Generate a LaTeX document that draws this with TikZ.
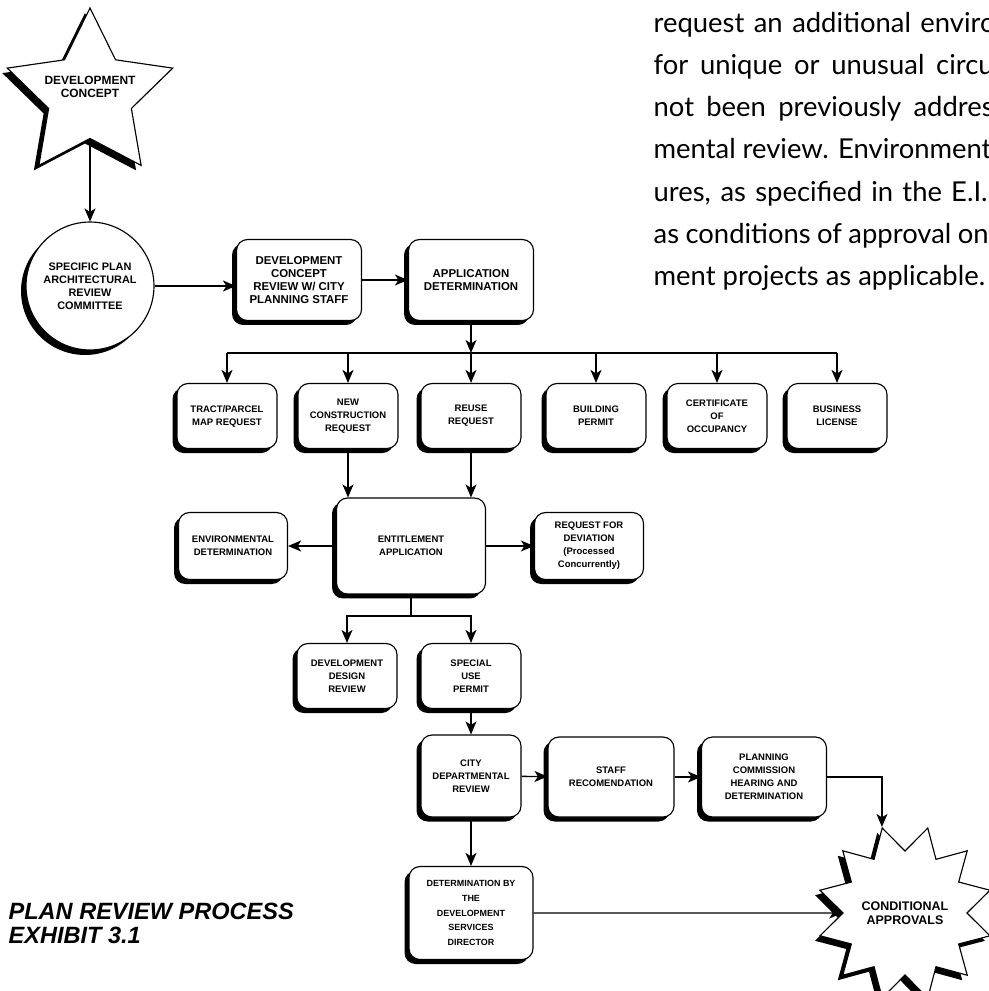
\documentclass[tikz,border=0pt]{standalone}
\usepackage{fontspec}
\setsansfont{Liberation Sans}
\newfontfamily\bodyfont{Lato}
\usetikzlibrary{shapes.geometric,shadows,arrows.meta}

\begin{document}
\begin{tikzpicture}
  [x=0.02cm, y=-0.02cm, line width=0.75pt,
   box/.style={draw, fill=white, line width=0.65pt, rounded corners=0.22cm,
     general shadow={fill=black, shadow xshift=-0.09cm, shadow yshift=-0.09cm},
     align=center, inner sep=1pt, minimum width=2cm, minimum height=1.3cm,
     font=\sffamily\bfseries\fontsize{5.4}{7.4}\selectfont},
   bigbox/.style={box, minimum width=2.5cm, minimum height=1.62cm,
     font=\sffamily\bfseries\fontsize{6.5}{7.4}\selectfont},
   blob/.style={draw, fill=white, line width=0.65pt, align=center, inner sep=0pt,
     general shadow={fill=black, shadow xshift=-0.1cm, shadow yshift=-0.1cm}},
   arr/.style={-{Stealth[length=0.26cm, width=0.22cm, inset=0.07cm]}}]
  \useasboundingbox (0,0) rectangle (989,991);
  \clip (0,0) rectangle (989,991);

  \foreach \t/\w [count=\i] in {request an additional enviro/6.84cm,
      for unique or unusual circu/6.8cm, not been previously addres/6.8cm,
      mental review. Environment/\width, {ures, as specified in the E.I.}/6.68cm,
      as conditions of approval on/6.7cm, ment projects as applicable./\width}
    \node[anchor=base west, inner sep=0pt, font=\bodyfont\fontsize{15.6}{19}\selectfont]
      (p\i) at (653, {32+42.3*(\i-1)}) {\makebox[\w][s]{\t}};

  \node[anchor=north west, inner sep=0pt, align=left,
    font=\sffamily\bfseries\itshape\fontsize{13.4}{13.7}\selectfont]
    (title) at (8,902) {PLAN REVIEW PROCESS\\EXHIBIT 3.1};

  \node[blob, star, star points=5, star point ratio=2, minimum size=3.48cm,
    label={[font=\sffamily\bfseries\fontsize{6.8}{7.6}\selectfont, align=center, yshift=0.16cm]center:{DEVELOPMENT\\CONCEPT}}]
    (concept) at (90,95) {};
  \node[blob, circle, minimum size=2.56cm, font=\sffamily\bfseries\fontsize{6.2}{7.4}\selectfont]
    (arb) at (90,286) {SPECIFIC PLAN\\ARCHITECTURAL\\REVIEW\\COMMITTEE};

  \node[bigbox] (dcr) at (299,280) {DEVELOPMENT\\CONCEPT\\REVIEW W/ CITY\\PLANNING STAFF};
  \node[bigbox] (app) at (471,280) {APPLICATION\\DETERMINATION};

  \node[box] (tract) at (227,416) {TRACT/PARCEL\\MAP REQUEST};
  \node[box] (newc) at (348,416) {NEW\\CONSTRUCTION\\REQUEST};
  \node[box] (reuse) at (471,416) {REUSE\\REQUEST};
  \node[box] (bldg) at (596,416) {BUILDING\\PERMIT};
  \node[box] (cert) at (717,416) {CERTIFICATE\\OF\\OCCUPANCY};
  \node[box] (lic) at (837,416) {BUSINESS\\LICENSE};

  \node[box, minimum width=2.98cm, minimum height=1.92cm] (ent) at (411,546) {ENTITLEMENT\\APPLICATION};
  \node[box, minimum width=2.18cm, minimum height=1.34cm] (env) at (233,546) {ENVIRONMENTAL\\DETERMINATION};
  \node[box, minimum width=2.18cm, minimum height=1.34cm] (dev) at (589,546) {REQUEST FOR\\DEVIATION\\(Processed\\Concurrently)};

  \node[box] (ddr) at (347,676) {DEVELOPMENT\\DESIGN\\REVIEW};
  \node[box] (sup) at (471,676) {SPECIAL\\USE\\PERMIT};

  \node[box, minimum height=1.64cm] (cdr) at (471,776) {CITY\\DEPARTMENTAL\\REVIEW};
  \node[box, minimum width=2.52cm, minimum height=1.6cm] (staff) at (611,777) {STAFF\\RECOMENDATION};
  \node[box, minimum width=2.5cm, minimum height=1.6cm] (pc) at (764,777) {PLANNING\\COMMISSION\\HEARING AND\\DETERMINATION};
  \node[box, minimum width=2.48cm, minimum height=1.86cm, font=\sffamily\bfseries\fontsize{5.1}{8.3}\selectfont]
    (det) at (471,913) {DETERMINATION BY\\THE\\DEVELOPMENT\\SERVICES\\DIRECTOR};

  \node[blob, star, star points=12, star point ratio=1.42, shape border rotate=15, minimum size=3.52cm,
    font=\sffamily\bfseries\fontsize{7.1}{8}\selectfont] (burst) at (905,913) {CONDITIONAL\\APPROVALS};

  \coordinate (bus) at (471,353);
  \coordinate (split) at (411,616);

  \draw[arr] (concept) -- (arb);
  \draw[arr] (arb) -- (arb -| dcr.west);
  \draw[arr] (dcr) -- (app);
  \draw[arr] (app) -- (bus);
  \draw (tract |- bus) -- (lic |- bus);
  \foreach \n in {tract,newc,reuse,bldg,cert,lic}
    \draw[arr] (\n |- bus) -- (\n);
  \draw[arr] (newc) -- (newc |- ent.north);
  \draw[arr] (reuse) -- (reuse |- ent.north);
  \draw[arr] (ent) -- (env);
  \draw[arr] (ent) -- (dev);
  \draw (ent) -- (split);
  \draw[arr] (split) -| (ddr);
  \draw[arr] (split) -| (sup);
  \draw[arr] (sup) -- (cdr);
  \draw[arr] (cdr) -- (staff);
  \draw[arr] (staff) -- (pc);
  \draw[arr] (pc) -| (burst.outer point 1);
  \draw[arr] (cdr) -- (det);
  \draw[arr] (det) -- (burst);
\end{tikzpicture}
\end{document}
